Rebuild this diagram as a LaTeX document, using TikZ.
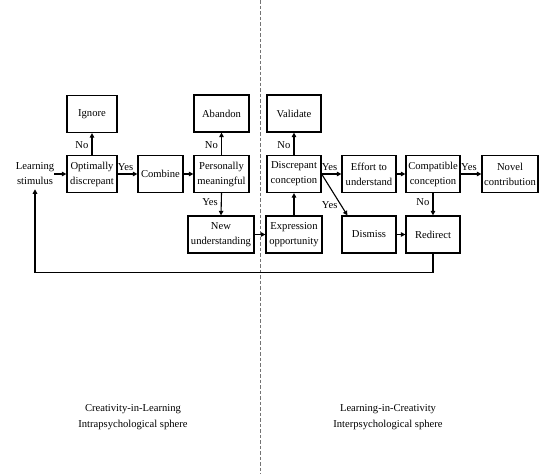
\documentclass[tikz,border=0pt]{standalone}
\usepackage{fontspec}
\setmainfont{Liberation Serif}
\usetikzlibrary{arrows.meta}
\begin{document}
\begin{tikzpicture}[x=1pt,y=-1pt,
  box/.style={draw,line width=1.2pt,minimum height=37pt,inner sep=0pt,align=center,font=\fontsize{10.6}{15}\selectfont},
  lbl/.style={inner sep=0pt,font=\fontsize{10.6}{15}\selectfont},
  arr/.style={line width=1.1pt,-{Triangle[length=4.5pt,width=4.5pt]}}]
\useasboundingbox (0,0) rectangle (539,474);
\coordinate (dtop) at (260,0);
\coordinate (dbot) at (260,474);
\draw[black!55,line width=1pt,dash pattern=on 3.5pt off 2pt] (dtop) -- (dbot);
% nodes
\node[lbl,align=center] (stim) at (35,174) {Learning\\stimulus};
\node[box,minimum width=50pt] (opt) at (92,174) {Optimally\\discrepant};
\node[box,minimum width=50pt] (ign) at (92,114) {Ignore};
\node[box,minimum width=45pt] (comb) at (160.5,174) {Combine};
\node[box,minimum width=55pt] (pers) at (221.5,174) {Personally\\meaningful};
\node[box,minimum width=55pt] (aban) at (221.5,113.5) {Abandon};
\node[box,minimum width=66pt] (newu) at (221,234.5) {New\\understanding};
\node[box,minimum width=56pt] (expr) at (294,234.5) {Expression\\opportunity};
\node[box,minimum width=54pt] (disc) at (294,174) {Discrepant\\conception};
\node[box,minimum width=54pt] (vali) at (294,113.5) {Validate};
\node[box,minimum width=54pt] (eff) at (369,174) {Effort to\\understand};
\node[box,minimum width=54pt] (comp) at (433,174) {Compatible\\conception};
\node[box,minimum width=56pt] (nov) at (510,174) {Novel\\contribution};
\node[box,minimum width=54pt] (dism) at (369,234.5) {Dismiss};
\node[box,minimum width=54pt] (redi) at (433,234.5) {Redirect};
% bottom labels
\node[lbl,align=center,font=\fontsize{10.6}{16}\selectfont] (cil) at (133,417) {Creativity-in-Learning\\Intrapsychological sphere};
\node[lbl,align=center,font=\fontsize{10.6}{16}\selectfont] (lic) at (388,417) {Learning-in-Creativity\\Interpsychological sphere};
% connectors
\draw[arr] (stim.east) -- (opt.west);
\draw[arr] (opt.north) -- node[lbl,left=3pt,pos=0.45] (n1) {No} (ign.south);
\draw[arr] (opt.east) -- node[lbl,above=3pt,pos=0.4] (y1) {Yes} (comb.west);
\draw[arr] (comb.east) -- (pers.west);
\draw[arr] (pers.north) -- node[lbl,left=3pt,pos=0.45] (n2) {No} (aban.south);
\draw[arr] (pers.south) -- node[lbl,left=3pt,pos=0.4] (y2) {Yes} (newu.north);
\draw[arr] (newu.east) -- (expr.west);
\draw[arr] (expr.north) -- (disc.south);
\draw[arr] (disc.north) -- node[lbl,left=3pt,pos=0.45] (n3) {No} (vali.south);
\draw[arr] (disc.east) -- node[lbl,above=3pt,pos=0.4] (y3) {Yes} (eff.west);
\draw[arr] (disc.east) -- node[lbl,left=3pt,pos=0.75] (y4) {Yes} ([xshift=6pt]dism.north west);
\draw[arr] (eff.east) -- (comp.west);
\draw[arr] (comp.east) -- node[lbl,above=3pt,pos=0.4] (y5) {Yes} (nov.west);
\draw[arr] (comp.south) -- node[lbl,left=3pt,pos=0.4] (n4) {No} (redi.north);
\draw[arr] (dism.east) -- (redi.west);
\draw[arr] (redi.south) -- ++(0,19) -| ([yshift=-4pt]stim.south);
\end{tikzpicture}
\end{document}
